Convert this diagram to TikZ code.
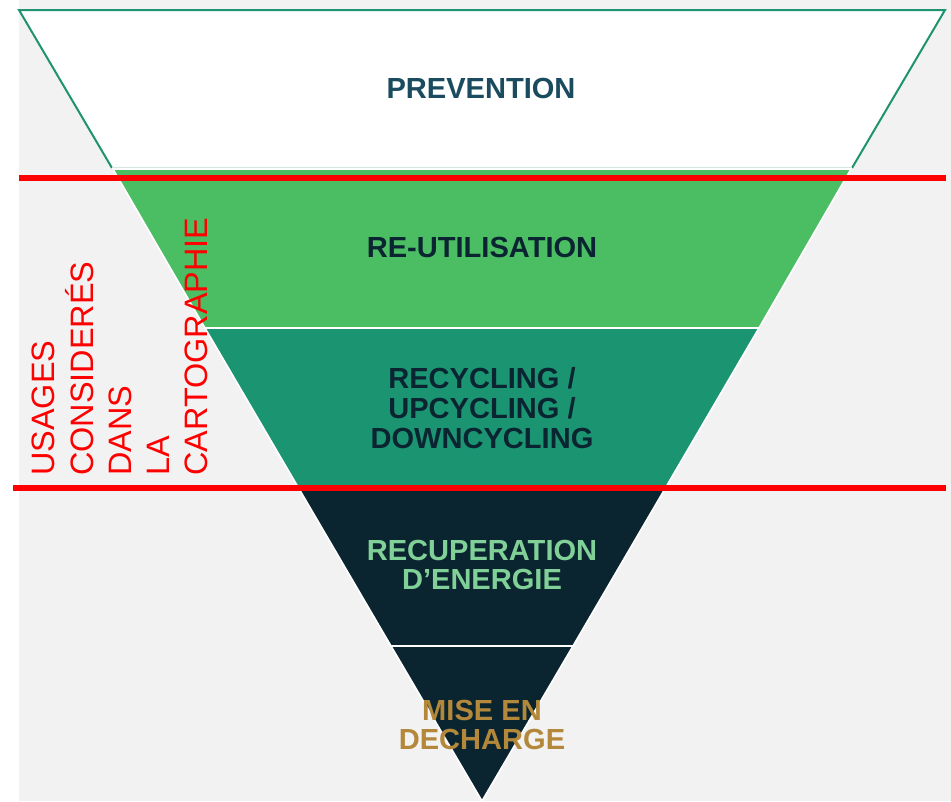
\documentclass[tikz,border=0pt]{standalone}
\usepackage{fontspec}
\setmainfont{Liberation Sans}

\definecolor{bggray}{HTML}{F2F2F2}
\definecolor{rimgreen}{HTML}{1F9270}
\definecolor{palerim}{HTML}{D5E6DE}
\definecolor{reusegreen}{HTML}{4BBD62}
\definecolor{recycteal}{HTML}{1B9571}
\definecolor{deepnavy}{HTML}{0A2530}
\definecolor{prevtext}{HTML}{1A4B5E}
\definecolor{navytext}{HTML}{0B2432}
\definecolor{minttext}{HTML}{80D097}
\definecolor{goldtext}{HTML}{B3883A}
\definecolor{usagered}{HTML}{FF0000}

\tikzset{
  band/.style={draw=white, line width=1.2pt},
  level/.style={font=\fontsize{21.8}{22.4}\selectfont\bfseries, align=center, inner sep=0pt},
  usage/.style={text=usagered, font=\fontsize{24.3}{24}\selectfont, rotate=90, anchor=base west, inner sep=0pt},
  redline/.style={draw=usagered, line width=4.5pt}
}

\begin{document}
\begin{tikzpicture}[x=0.75pt,y=-0.75pt]
  \useasboundingbox (0,0) rectangle (951,801);
  \fill[bggray] (19,0) rectangle (951,801);

  % the five levels of the inverted pyramid
  \filldraw[fill=white, draw=rimgreen, line width=1.5pt] (112,168) -- (19,10) -- (945,10) -- (852,168);
  \draw[palerim, line width=1.1pt] (112,168) -- (852,168);
  \filldraw[band, fill=reusegreen] (113,169) -- (851,169) -- (759,328) -- (205,328) -- cycle;
  \filldraw[band, fill=recycteal] (205,328) -- (759,328) -- (666,487) -- (298,487) -- cycle;
  \filldraw[band, fill=deepnavy] (298,487) -- (666,487) -- (573,646) -- (391,646) -- cycle;
  \filldraw[band, fill=deepnavy] (391,646) -- (573,646) -- (482,801) -- cycle;

  % limits of the mapped uses
  \draw[redline] (19,178) -- (946,178);
  \draw[redline] (13,488) -- (946,488);

  \node[level, text=prevtext] (prev) at (481,88) {PREVENTION};
  \node[level, text=navytext] (reuse) at (482,247) {RE-UTILISATION};
  \node[level, text=navytext] (recyc) at (482,408) {RECYCLING /\\UPCYCLING /\\DOWNCYCLING};
  \node[level, text=minttext] (recup) at (482,565) {RECUPERATION\\D’ENERGIE};
  \node[level, text=goldtext] (landfill) at (482,725) {MISE EN\\DECHARGE};

  \foreach \w [count=\i] in {USAGES, CONSIDERÉS, DANS, LA, CARTOGRAPHIE}
    \node[usage] (usage\i) at ({17+38*\i},476) {\w};
\end{tikzpicture}
\end{document}
